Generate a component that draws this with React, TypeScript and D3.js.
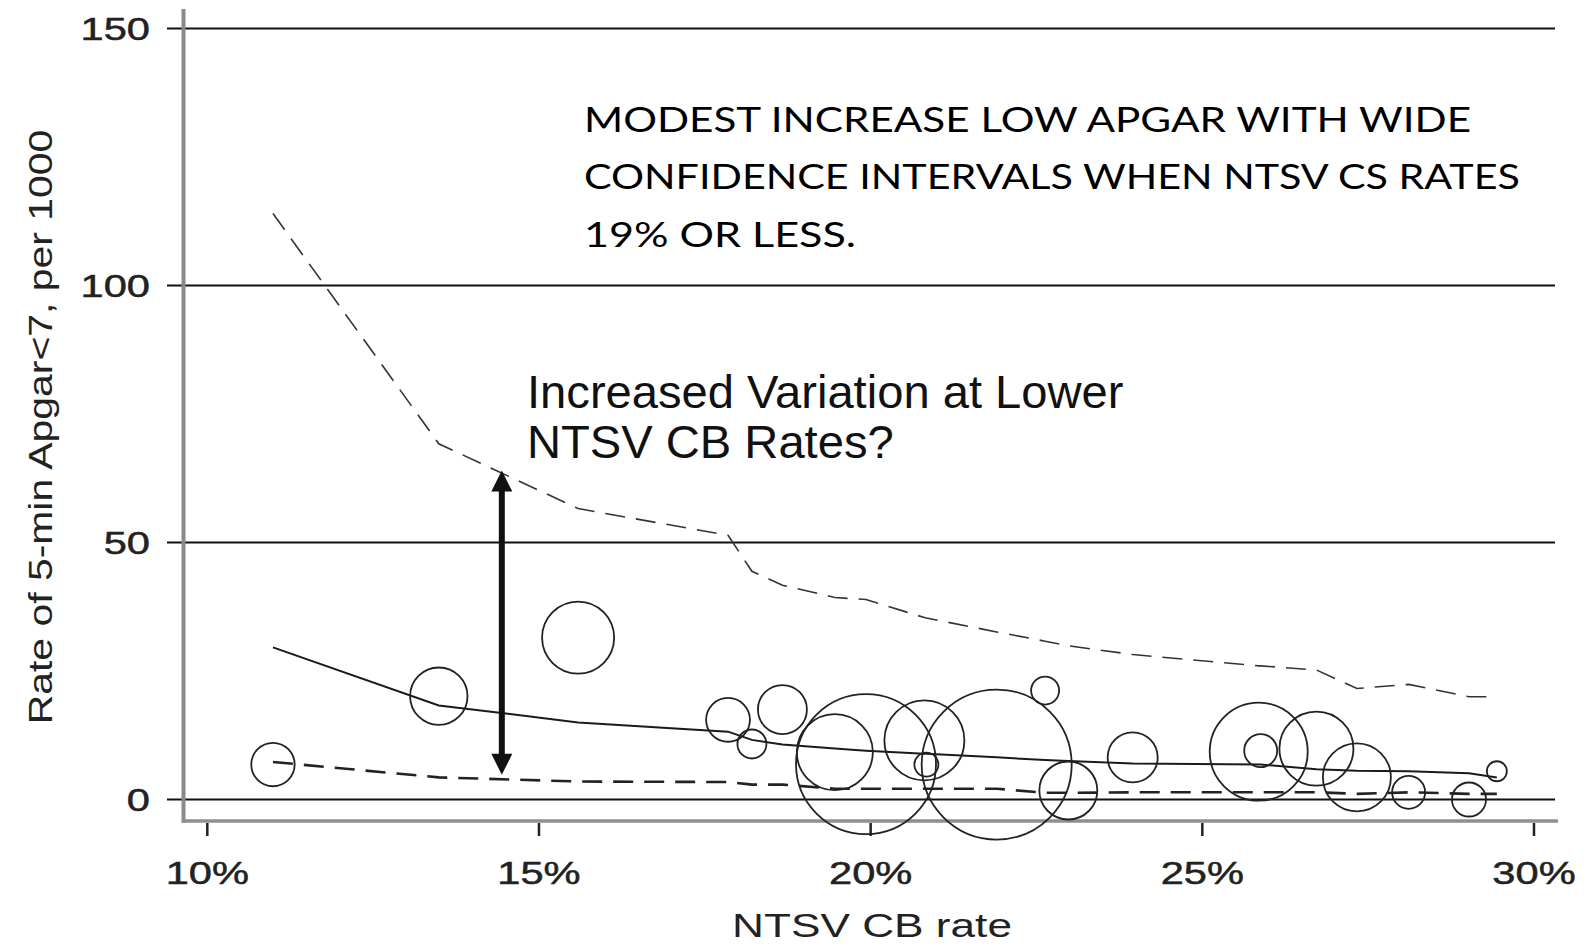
import React from 'react';
import * as d3 from 'd3';

// hospital NTSV cesarean rate (%) and 5-min Apgar<7 rate per 1000
const cbRate = [10.99, 13.49, 15.59, 17.85, 18.21, 18.67, 19.46, 19.93, 20.81, 20.84, 21.9, 22.63, 22.98, 23.95, 25.85, 25.88, 26.72, 27.33, 28.11, 29.02, 29.44];
const apgarRate = [6.8, 20.1, 31.5, 15.5, 10.8, 17.5, 9.2, 6.9, 11.5, 6.8, 6.8, 21.2, 1.75, 8.2, 9.3, 9.5, 9.9, 4.3, 1.4, 0, 5.5];
const births = [470, 824, 1300, 480, 210, 600, 1444, 4900, 1600, 144, 5625, 196, 841, 625, 2401, 272, 1369, 1156, 272, 289, 100];

// fitted rate and confidence band at each hospital's rate
const fitted = [29.6, 18.3, 15.0, 13.2, 11.6, 10.7, 9.9, 9.5, 8.9, 8.9, 8.2, 7.7, 7.5, 7.0, 6.8, 6.8, 5.9, 5.6, 5.5, 5.1, 4.3];
const upperCI = [114.0, 69.2, 56.6, 51.4, 44.4, 41.7, 39.3, 38.9, 35.4, 35.3, 32.6, 30.8, 29.9, 28.2, 26.0, 26.0, 25.2, 21.6, 22.4, 20.0, 20.0];
const lowerCI = [7.3, 4.3, 3.5, 3.4, 2.9, 2.9, 2.1, 2.1, 2.1, 2.1, 2.1, 1.3, 1.3, 1.4, 1.4, 1.4, 1.4, 1.1, 1.4, 1.1, 1.1];

const xTicks = [10, 15, 20, 25, 30];
const yTicks = [0, 50, 100, 150];

// arrow annotation (x in %, y in rate units)
const arrowX = 14.44;
const arrowFrom = 4.8;
const arrowTo = 64.0;

const noteLines = [
  'MODEST INCREASE LOW APGAR WITH WIDE',
  'CONFIDENCE INTERVALS WHEN NTSV CS RATES',
  '19% OR LESS.',
];
const noteWidths = [887, 936, 272];
const questionLines = ['Increased Variation at Lower', 'NTSV CB Rates?'];

const W = 1593;
const H = 945;

export default function App() {
  const x = d3.scaleLinear().domain([10, 30]).range([207.3, 1534]);
  const y = d3.scaleLinear().domain([0, 150]).range([799.5, 28.5]);
  const r = d3.scaleSqrt().domain([0, 10000]).range([0, 100]);

  const pts = cbRate.map((c, i) => ({ c, i }));
  const lineOf = (vals: number[]) =>
    d3.line<{ c: number; i: number }>().x(d => x(d.c)).y(d => y(vals[d.i]))(pts) || '';

  const axisFont = "'Liberation Sans', Arial, sans-serif";
  const stretch = 1.3;

  const ax = x(arrowX);
  const aTop = y(arrowTo);
  const aBot = y(arrowFrom);

  return (
    <svg width={W} height={H} style={{ position: 'absolute', left: 0, top: 0, background: '#fff' }}>
      {/* gridlines */}
      {yTicks.map(t => (
        <line key={t} x1={167} x2={1555} y1={y(t)} y2={y(t)} stroke="#111" strokeWidth={2} />
      ))}
      {/* axes */}
      <line x1={183.5} x2={183.5} y1={9} y2={823} stroke="#8a8a8a" strokeWidth={4} />
      <line x1={182} x2={1558} y1={821} y2={821} stroke="#8f8f8f" strokeWidth={3.5} />
      {xTicks.map(t => (
        <line key={t} x1={x(t)} x2={x(t)} y1={823} y2={836} stroke="#222" strokeWidth={2.5} />
      ))}

      {/* y tick labels */}
      {yTicks.map(t => (
        <text key={t} transform={`translate(150,${y(t)}) scale(${stretch},1)`} textAnchor="end" dy="0.36em"
          fontFamily={axisFont} fontSize={32} fill="#222" stroke="#222" strokeWidth={0.5}>{t}</text>
      ))}
      {/* x tick labels */}
      {xTicks.map(t => (
        <text key={t} transform={`translate(${x(t)},872) scale(${stretch},1)`} textAnchor="middle" dy="0.36em"
          fontFamily={axisFont} fontSize={32} fill="#222" stroke="#222" strokeWidth={0.5}>{t}%</text>
      ))}
      {/* axis titles */}
      <text transform={`translate(872,925) scale(1.3,1)`} textAnchor="middle" dy="0.36em"
        fontFamily={axisFont} fontSize={34} fill="#222">NTSV CB rate</text>
      <text transform={`translate(40,427) rotate(-90) scale(1.24,1)`} textAnchor="middle" dy="0.36em"
        fontFamily={axisFont} fontSize={33} fill="#222">Rate of 5-min Apgar&lt;7, per 1000</text>

      {/* confidence band and fit */}
      <path d={lineOf(upperCI)} fill="none" stroke="#333" strokeWidth={1.6} strokeDasharray="20 11" />
      <path d={lineOf(lowerCI)} fill="none" stroke="#222" strokeWidth={2.6} strokeDasharray="20 11" />
      <path d={lineOf(fitted)} fill="none" stroke="#1a1a1a" strokeWidth={2} />

      {/* hospitals */}
      {cbRate.map((c, i) => (
        <circle key={i} cx={x(c)} cy={y(apgarRate[i])} r={r(births[i])} fill="none" stroke="#222" strokeWidth={1.8} />
      ))}

      {/* double-headed arrow */}
      <line x1={ax} x2={ax} y1={aTop + 18} y2={aBot - 18} stroke="#111" strokeWidth={6} />
      <polygon points={`${ax},${aTop} ${ax - 10.5},${aTop + 21} ${ax + 10.5},${aTop + 21}`} fill="#111" />
      <polygon points={`${ax},${aBot} ${ax - 10.5},${aBot - 21} ${ax + 10.5},${aBot - 21}`} fill="#111" />

      {/* annotations */}
      {questionLines.map((s, i) => (
        <text key={s} transform={`translate(527,${408 + i * 50}) scale(1.025,1)`} fontFamily={axisFont}
          fontSize={46} fill="#111">{s}</text>
      ))}
      {noteLines.map((s, i) => (
        <text key={s} x={584} y={131.7 + i * 57.5} fontFamily="'Century Gothic', 'URW Gothic', Lato, sans-serif"
          fontSize={34} fill="#000" textLength={noteWidths[i]} lengthAdjust="spacingAndGlyphs">{s}</text>
      ))}
    </svg>
  );
}
